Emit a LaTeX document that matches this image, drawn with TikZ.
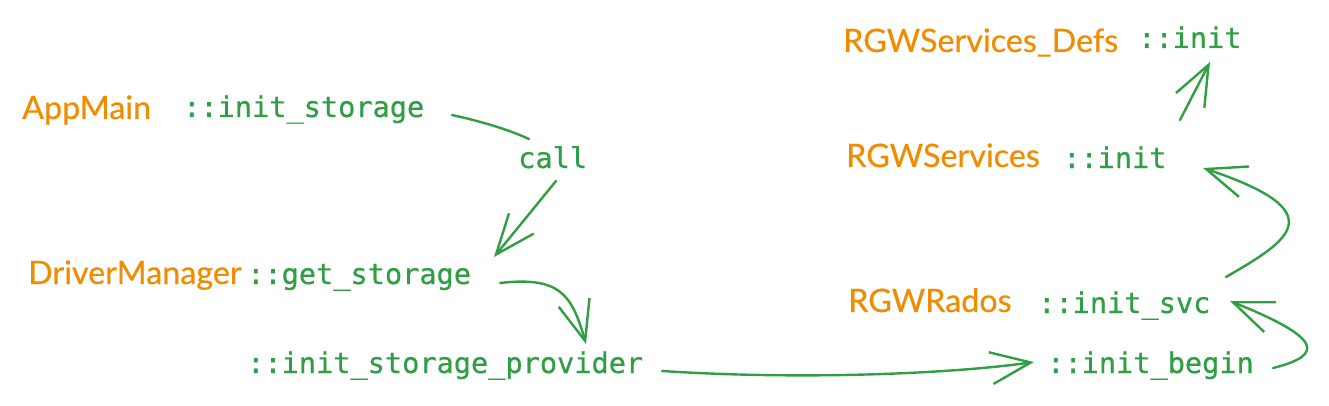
\documentclass[tikz,border=0pt]{standalone}
\usepackage{fontspec}
\setmainfont{Lato}
\newfontfamily\codefont[FakeBold=0.6]{DejaVu Sans Mono}
\newfontfamily\clsfont[FakeBold=0.5]{Lato}
\usetikzlibrary{arrows.meta}
\definecolor{cls}{HTML}{F08C00}
\definecolor{fn}{HTML}{2F9E44}
\tikzset{
  clsname/.style={anchor=base west, inner sep=0pt, text=cls, font=\clsfont\fontsize{32.3}{32.3}\selectfont},
  fnname/.style={anchor=base west, inner sep=0pt, text=fn, font=\codefont\fontsize{28.6}{28.6}\selectfont},
  conn/.style={draw=fn, line width=2.4pt, line cap=round, line join=round},
  arr/.style={conn, -{Straight Barb[length=40pt,width=32pt,line width=2.4pt]}}
}
\begin{document}
\begin{tikzpicture}[x=1pt,y=-1pt]
\useasboundingbox (0,0) rectangle (1329,406);
% labels
\node[clsname] (appmain) at (22,119) {AppMain};
\node[fnname] (initst) at (183,117) {::init\_storage};
\node[fnname] (call) at (518,168) {call};
\node[clsname] (drvmgr) at (28,284) {DriverManager};
\node[fnname] (getst) at (247,284) {::get\_storage};
\node[fnname] (prov) at (247,373) {::init\_storage\_provider};
\node[fnname] (begin) at (1047,373) {::init\_begin};
\node[clsname] (rados) at (848,312) {RGWRados};
\node[fnname] (svc) at (1038,313) {::init\_svc};
\node[clsname] (services) at (846,167) {RGWServices};
\node[fnname] (sinit) at (1063,168) {::init};
\node[clsname] (defs) at (843,52) {RGWServices\_Defs};
\node[fnname] (dinit) at (1138,48) {::init};
% connector end points
\coordinate (a1) at (452,115);
\coordinate (a2) at (529,139);
\coordinate (b1) at (556,181);
\coordinate (b2) at (494,257);
\coordinate (c1) at (500,283);
\coordinate (c2) at (586,344);
\coordinate (d1) at (662,371);
\coordinate (d2) at (1034,362);
\coordinate (e1) at (1273,368);
\coordinate (e2) at (1230,301);
\coordinate (f1) at (1226,277);
\coordinate (f2) at (1203,168);
\coordinate (g1) at (1180,120);
\coordinate (g2) at (1210,62);
% connectors
\draw[conn] (a1) .. controls (475,120) and (505,128) .. (a2);
\draw[arr] (b1) -- (b2);
\draw[arr] (c1) .. controls (560,276) and (572,295) .. (c2);
\draw[arr] (d1) .. controls (800,380) and (950,374) .. (d2);
\draw[arr] (e1) .. controls (1325,355) and (1322,338) .. (e2);
\draw[arr] (f1) .. controls (1290,240) and (1335,212) .. (f2);
\draw[arr] (g1) -- (g2);
\end{tikzpicture}
\end{document}
